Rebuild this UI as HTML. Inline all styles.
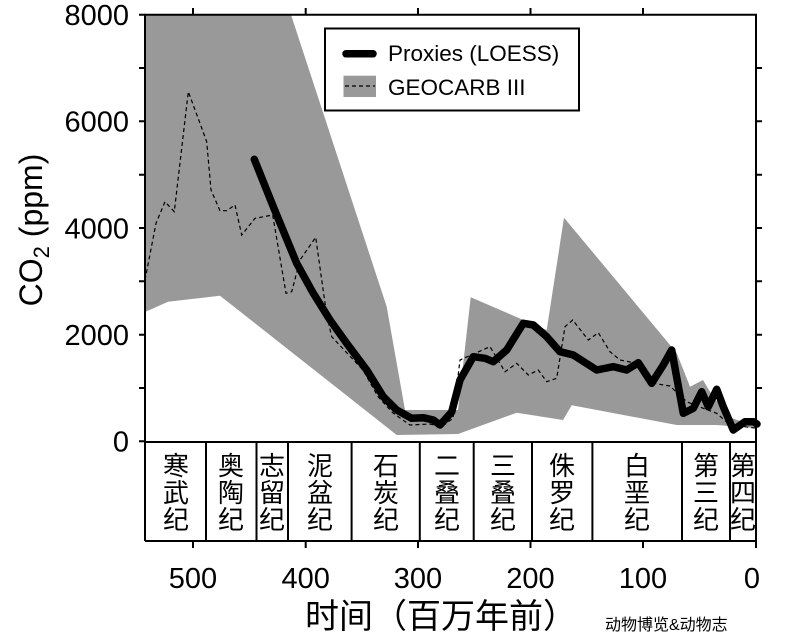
<!DOCTYPE html>
<html><head><meta charset="utf-8"><style>
html,body{margin:0;padding:0;background:#fff;}
svg{display:block;}
text{font-family:"Liberation Sans","Noto Sans CJK SC",sans-serif;fill:#000;}
</style></head><body>
<svg width="786" height="640" viewBox="0 0 786 640" xmlns="http://www.w3.org/2000/svg">
<polygon fill="#999" points="145,14.7 291,14.7 386.7,306.7 405,410 445,410 458,410 470.7,297.3 546.7,330 564,217.7 676.7,353 690,386.7 703,380 713,396.7 731.7,418 756,426.7 756,428 716.7,425 676.7,425 571.7,405.3 563,420 516.7,412.7 458,434 396.7,435 220,295.7 168,301.7 145,312"/>
<polyline fill="none" stroke="#000" stroke-width="1.2" stroke-dasharray="4,3" points="145,280 156,223.3 165,201.7 174.3,211.7 188.3,91.7 200,123.3 206.7,141.7 211,190 220,210.7 226.7,210.7 235,205 241.7,235 255,218.3 272.7,215 286,293.3 291.7,291.7 300,260 315.7,237.3 326.7,315 331.7,336.7 363,370 378,396.7 393,413 410,425 430,424 441.7,426.7 453,418.3 460,360 490,346.7 505,371.7 516.7,363.3 528.3,375 538.3,370 546.7,381.7 556.7,378.3 565,326.7 572.7,320 588.3,340 598.3,332.7 610,351.7 620,360 636.7,363.3 653.3,383.3 670,386 686.7,401.7 703.3,408.3 716.7,413.3 730,425 755,428"/>
<polyline fill="none" stroke="#000" stroke-width="7.5" stroke-linejoin="round" stroke-linecap="round" points="254.3,159.3 273.3,206.7 296.7,263.3 313.3,293.3 330,320 346.7,343.3 366.7,370 383.3,396.7 396.7,410 411.7,418.3 423.3,417.7 433.3,420 440,425 451.7,412 460,380 473.3,356.7 485,358.3 493.3,361.7 506.7,350 523.3,323.3 533.3,325 546.7,336.7 560,351.7 573.3,355 596.7,370 613.3,366.7 626.7,370 638.3,362.7 651.7,383.3 663.3,365 671.7,350 683.3,413.3 693.3,408.3 701.7,391.7 708.3,406.7 716.7,389.3 723.3,406.7 733.3,430 745,421.7 753.3,421.7 757,424"/>
<g stroke="#000" stroke-width="2" fill="none">
<polyline points="145,541 145,14.7 756,14.7 756,541 145,541"/>
<line x1="145" y1="442" x2="756" y2="442"/>
<line x1="206" y1="442" x2="206" y2="541"/><line x1="256.5" y1="442" x2="256.5" y2="541"/>
<line x1="288" y1="442" x2="288" y2="541"/><line x1="351.6" y1="442" x2="351.6" y2="541"/>
<line x1="419.8" y1="442" x2="419.8" y2="541"/><line x1="473.7" y1="442" x2="473.7" y2="541"/>
<line x1="532" y1="442" x2="532" y2="541"/><line x1="592.4" y1="442" x2="592.4" y2="541"/>
<line x1="682" y1="442" x2="682" y2="541"/><line x1="730" y1="442" x2="730" y2="541"/>
<path d="M139,14.7H145M139,68H145M139,121.3H145M139,174.7H145M139,228H145M139,281.3H145M139,334.7H145M139,388H145M139,441.3H145"/>
<path d="M756,68H762M756,121.3H762M756,174.7H762M756,228H762M756,281.3H762M756,334.7H762M756,388H762"/>
<path d="M193,8V14.7M305.7,8V14.7M418,8V14.7M530.5,8V14.7M643,8V14.7"/>
<path d="M193,541V548M305.7,541V548M418,541V548M530.5,541V548M643,541V548M756,541V548"/>
</g>
<g font-size="29" text-anchor="end">
<text x="129" y="25">8000</text><text x="129" y="131.5">6000</text><text x="129" y="238.5">4000</text><text x="129" y="345">2000</text><text x="129" y="451.5">0</text>
</g>
<g font-size="29" text-anchor="middle">
<text x="193" y="588">500</text><text x="305.7" y="588">400</text><text x="418" y="588">300</text><text x="530.5" y="588">200</text><text x="643" y="588">100</text><text x="752" y="588">0</text>
</g>
<text transform="translate(42,230) rotate(-90)" font-size="32" text-anchor="middle">CO<tspan font-size="22" dy="7">2</tspan><tspan dy="-7"> (ppm)</tspan></text>
<text x="441" y="628" font-size="34" text-anchor="middle">时间（百万年前）</text>
<text x="605" y="630" font-size="16">动物博览&amp;动物志</text>
<g font-size="26" text-anchor="middle">
<text x="176" y="475">寒</text><text x="176" y="502">武</text><text x="176" y="529">纪</text>
<text x="231" y="475">奥</text><text x="231" y="502">陶</text><text x="231" y="529">纪</text>
<text x="272" y="475">志</text><text x="272" y="502">留</text><text x="272" y="529">纪</text>
<text x="320" y="475">泥</text><text x="320" y="502">盆</text><text x="320" y="529">纪</text>
<text x="386" y="475">石</text><text x="386" y="502">炭</text><text x="386" y="529">纪</text>
<text x="447" y="475">二</text><text x="447" y="502">叠</text><text x="447" y="529">纪</text>
<text x="503" y="475">三</text><text x="503" y="502">叠</text><text x="503" y="529">纪</text>
<text x="562" y="475">侏</text><text x="562" y="502">罗</text><text x="562" y="529">纪</text>
<text x="637" y="475">白</text><text x="637" y="502">垩</text><text x="637" y="529">纪</text>
<text x="706" y="475">第</text><text x="706" y="502">三</text><text x="706" y="529">纪</text>
<text x="743" y="475">第</text><text x="743" y="502">四</text><text x="743" y="529">纪</text>
</g>
<rect x="325" y="28.5" width="254" height="82" fill="#fff" stroke="#000" stroke-width="2"/>
<line x1="346" y1="53.8" x2="373" y2="53.8" stroke="#000" stroke-width="7.5" stroke-linecap="round"/>
<rect x="343.5" y="75.7" width="32.5" height="21.3" fill="#999"/>
<line x1="345" y1="86" x2="375" y2="86" stroke="#000" stroke-width="1.2" stroke-dasharray="4,3"/>
<text x="388" y="61" font-size="22.5">Proxies (LOESS)</text>
<text x="388" y="95" font-size="22.5">GEOCARB III</text>
</svg>
</body></html>
